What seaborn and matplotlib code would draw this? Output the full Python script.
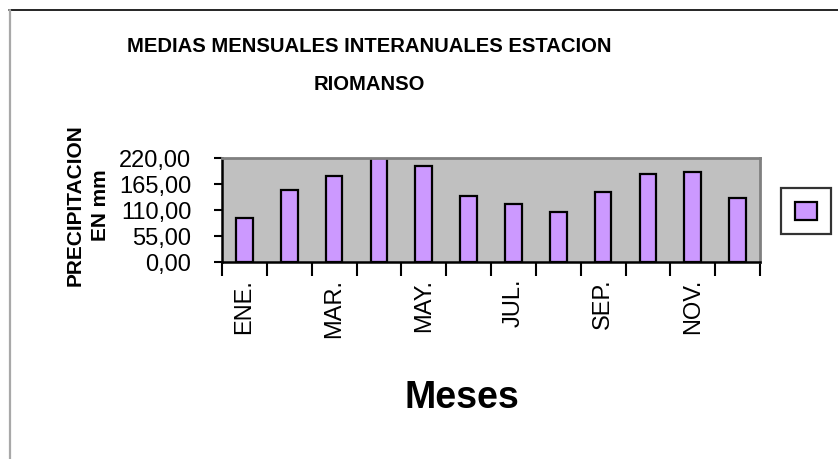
import numpy as np
import pandas as pd
import matplotlib
matplotlib.use("Agg")
import matplotlib.pyplot as plt
import seaborn as sns
from matplotlib.patches import Patch
from matplotlib.lines import Line2D

# monthly means (mm)
meses = ["ENE.", "FEB.", "MAR.", "ABR.", "MAY.", "JUN.",
         "JUL.", "AGO.", "SEP.", "OCT.", "NOV.", "DIC."]
precip = [93.0, 152.0, 182.0, 220.0, 203.5, 139.0,
          123.5, 106.5, 148.5, 185.5, 190.5, 134.5]
y_ticks = [0, 55, 110, 165, 220]
y_tick_labels = ["0,00", "55,00", "110,00", "165,00", "220,00"]

bar_color = "#CC99FF"
plot_bg = "#C0C0C0"
font = ["Liberation Sans", "DejaVu Sans"]

sns.set_theme(style="white")
plt.rcParams["font.family"] = font
plt.rcParams["text.color"] = "black"
plt.rcParams["xtick.labelcolor"] = "black"
plt.rcParams["ytick.labelcolor"] = "black"

df = pd.DataFrame({"mes": meses, "mm": precip})

W, H = 838, 459
fig = plt.figure(figsize=(W / 100, H / 100), dpi=100)
ax = fig.add_axes([222 / W, 1 - 262 / H, (760 - 222) / W, (262 - 158) / H])
ax.set_facecolor(plot_bg)

sns.barplot(data=df, x="mes", y="mm", color=bar_color, saturation=1,
            edgecolor="black", linewidth=1.6, width=0.37, ax=ax)

ax.set_xlim(-0.5, len(meses) - 0.5)
ax.set_ylim(0, 220)

# y axis
ax.set_yticks(y_ticks)
ax.set_yticklabels(y_tick_labels, fontsize=17)
ax.tick_params(axis="y", direction="out", length=6, width=1.5, color="black",
               pad=16, left=True)

# x axis: marks between categories, every other month labelled
ax.set_xticks(np.arange(len(meses)))
ax.set_xticklabels([m if i % 2 == 0 else "" for i, m in enumerate(meses)],
                   rotation=90, fontsize=17, va="top")
ax.tick_params(axis="x", which="major", length=0, pad=12)
ax.set_xticks(np.arange(len(meses) + 1) - 0.5, minor=True)
ax.tick_params(axis="x", which="minor", direction="out", length=10, width=1.5,
               color="black", bottom=True)

ax.set_xlabel("")
ax.set_ylabel("")

for side in ["left", "bottom"]:
    ax.spines[side].set_color("black")
    ax.spines[side].set_linewidth(1.8)
for side in ["top", "right"]:
    ax.spines[side].set_color("#808080")
    ax.spines[side].set_linewidth(2)

# titles
fig.text(369 / W, 1 - 47 / H, "MEDIAS MENSUALES INTERANUALES ESTACION",
         ha="center", va="center", fontsize=14.6, fontweight="bold")
fig.text(369 / W, 1 - 85 / H, "RIOMANSO",
         ha="center", va="center", fontsize=14.6, fontweight="bold")
fig.text(88 / W, 1 - 205 / H, "PRECIPITACION\nEN mm", rotation=90,
         ha="center", va="center", fontsize=15, fontweight="bold",
         linespacing=1.4, multialignment="center")
fig.text(462 / W, 1 - 398 / H, "Meses", ha="center", va="center",
         fontsize=27, fontweight="bold")

# legend with an empty label
leg = fig.legend(handles=[Patch(facecolor=bar_color, edgecolor="black", linewidth=1.6)],
                 labels=[""], loc="center", bbox_to_anchor=(806 / W, 1 - 211 / H),
                 frameon=True, fancybox=False, handlelength=1.3, handleheight=1.3,
                 handletextpad=0, borderpad=0.85, fontsize=12)
leg.get_frame().set_edgecolor("black")
leg.get_frame().set_linewidth(1.6)

# outer frame (only top and left edges visible in the reference)
fig.add_artist(Line2D([9 / W, 1], [1 - 10 / H, 1 - 10 / H], color="black", lw=1.2))
fig.add_artist(Line2D([10 / W, 10 / W], [0, 1 - 10 / H], color="#A8A8A8", lw=1.6))

fig.savefig("out.png", dpi=100)
